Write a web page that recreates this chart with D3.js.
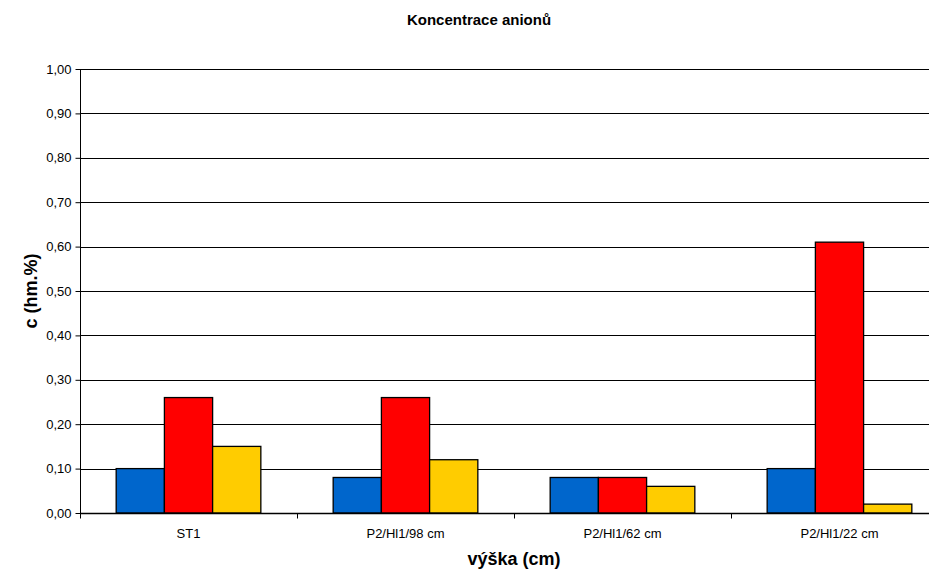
<!DOCTYPE html>
<html>
<head>
<meta charset="utf-8">
<script src="https://cdn.jsdelivr.net/npm/d3@7"></script>
<style>
  html, body { margin: 0; padding: 0; background: #fff; }
  svg { display: block; font-family: Arial, "Liberation Sans", sans-serif; }
</style>
</head>
<body>
<svg id="chart" width="929" height="569"></svg>
<script>
// Sample locations and anion concentrations (hm.%) for three series
const categories = ["ST1", "P2/Hl1/98 cm", "P2/Hl1/62 cm", "P2/Hl1/22 cm"];
const seriesA = [0.10, 0.08, 0.08, 0.10];
const seriesB = [0.26, 0.26, 0.08, 0.61];
const seriesC = [0.15, 0.12, 0.06, 0.02];
const seriesColors = ["#0066CC", "#FF0000", "#FFCC00"];
const yTicks = [0, 0.1, 0.2, 0.3, 0.4, 0.5, 0.6, 0.7, 0.8, 0.9, 1.0];

const seriesList = [seriesA, seriesB, seriesC];
const fmt = v => d3.format(".2f")(v).replace(".", ",");

const svg = d3.select("#chart");
const plot = { left: 80, top: 69, right: 948, bottom: 513 };

const x = d3.scaleBand().domain(categories).range([plot.left, plot.right])
  .paddingInner(0.3333).paddingOuter(0.1667);
const xOuter = d3.scaleBand().domain(categories).range([plot.left, plot.right]);
const xSub = d3.scaleBand().domain(d3.range(seriesList.length)).range([0, x.bandwidth()]);
const y = d3.scaleLinear().domain([0, 1]).range([plot.bottom, plot.top]);

// horizontal gridlines
svg.append("g").selectAll("line").data(yTicks.slice(1)).join("line")
  .attr("x1", plot.left).attr("x2", plot.right)
  .attr("y1", d => Math.round(y(d)) + 0.5).attr("y2", d => Math.round(y(d)) + 0.5)
  .attr("stroke", "#000").attr("stroke-width", 1);

// bars
const groups = svg.append("g").selectAll("g").data(categories).join("g")
  .attr("transform", d => `translate(${x(d)},0)`);
groups.selectAll("rect")
  .data((d, i) => seriesList.map((s, k) => ({ k, v: s[i] })))
  .join("rect")
  .attr("x", d => xSub(d.k))
  .attr("width", xSub.bandwidth())
  .attr("y", d => y(d.v))
  .attr("height", d => y(0) - y(d.v))
  .attr("fill", d => seriesColors[d.k])
  .attr("stroke", "#000").attr("stroke-width", 1.3);

// y axis
const yAxis = svg.append("g").attr("transform", `translate(${plot.left + 0.5},0)`)
  .call(d3.axisLeft(y).tickValues(yTicks).tickFormat(fmt).tickSize(5).tickPadding(4));
yAxis.select(".domain").attr("stroke", "#000").attr("d", `M0,${plot.top}V${plot.bottom}`);
yAxis.selectAll(".tick line").attr("stroke", "#000");
yAxis.selectAll("text").attr("font-size", 13).attr("fill", "#000")
  .attr("font-family", "Arial, 'Liberation Sans', sans-serif");

// x axis with category boundary ticks
const xAxisG = svg.append("g").attr("transform", `translate(0,${plot.bottom + 0.5})`);
xAxisG.append("line").attr("x1", plot.left).attr("x2", plot.right)
  .attr("stroke", "#000").attr("stroke-width", 1.3);
xAxisG.selectAll("line.bt").data(categories).join("line").attr("class", "bt")
  .attr("x1", d => Math.round(xOuter(d)) + 0.5).attr("x2", d => Math.round(xOuter(d)) + 0.5)
  .attr("y1", 0).attr("y2", 5).attr("stroke", "#000");
xAxisG.selectAll("text").data(categories).join("text")
  .attr("x", d => xOuter(d) + xOuter.bandwidth() / 2)
  .attr("y", 24)
  .attr("text-anchor", "middle")
  .attr("font-size", 13)
  .attr("fill", "#000")
  .text(d => d);

// titles
svg.append("text").attr("x", 479).attr("y", 25).attr("text-anchor", "middle")
  .attr("font-size", 15).attr("font-weight", "bold").text("Koncentrace anionů");
svg.append("text").attr("x", 514).attr("y", 565).attr("text-anchor", "middle")
  .attr("font-size", 18).attr("font-weight", "bold").text("výška (cm)");
svg.append("text").attr("transform", `translate(37,${(plot.top + plot.bottom) / 2}) rotate(-90)`)
  .attr("text-anchor", "middle")
  .attr("font-size", 18).attr("font-weight", "bold").text("c (hm.%)");
</script>
</body>
</html>
